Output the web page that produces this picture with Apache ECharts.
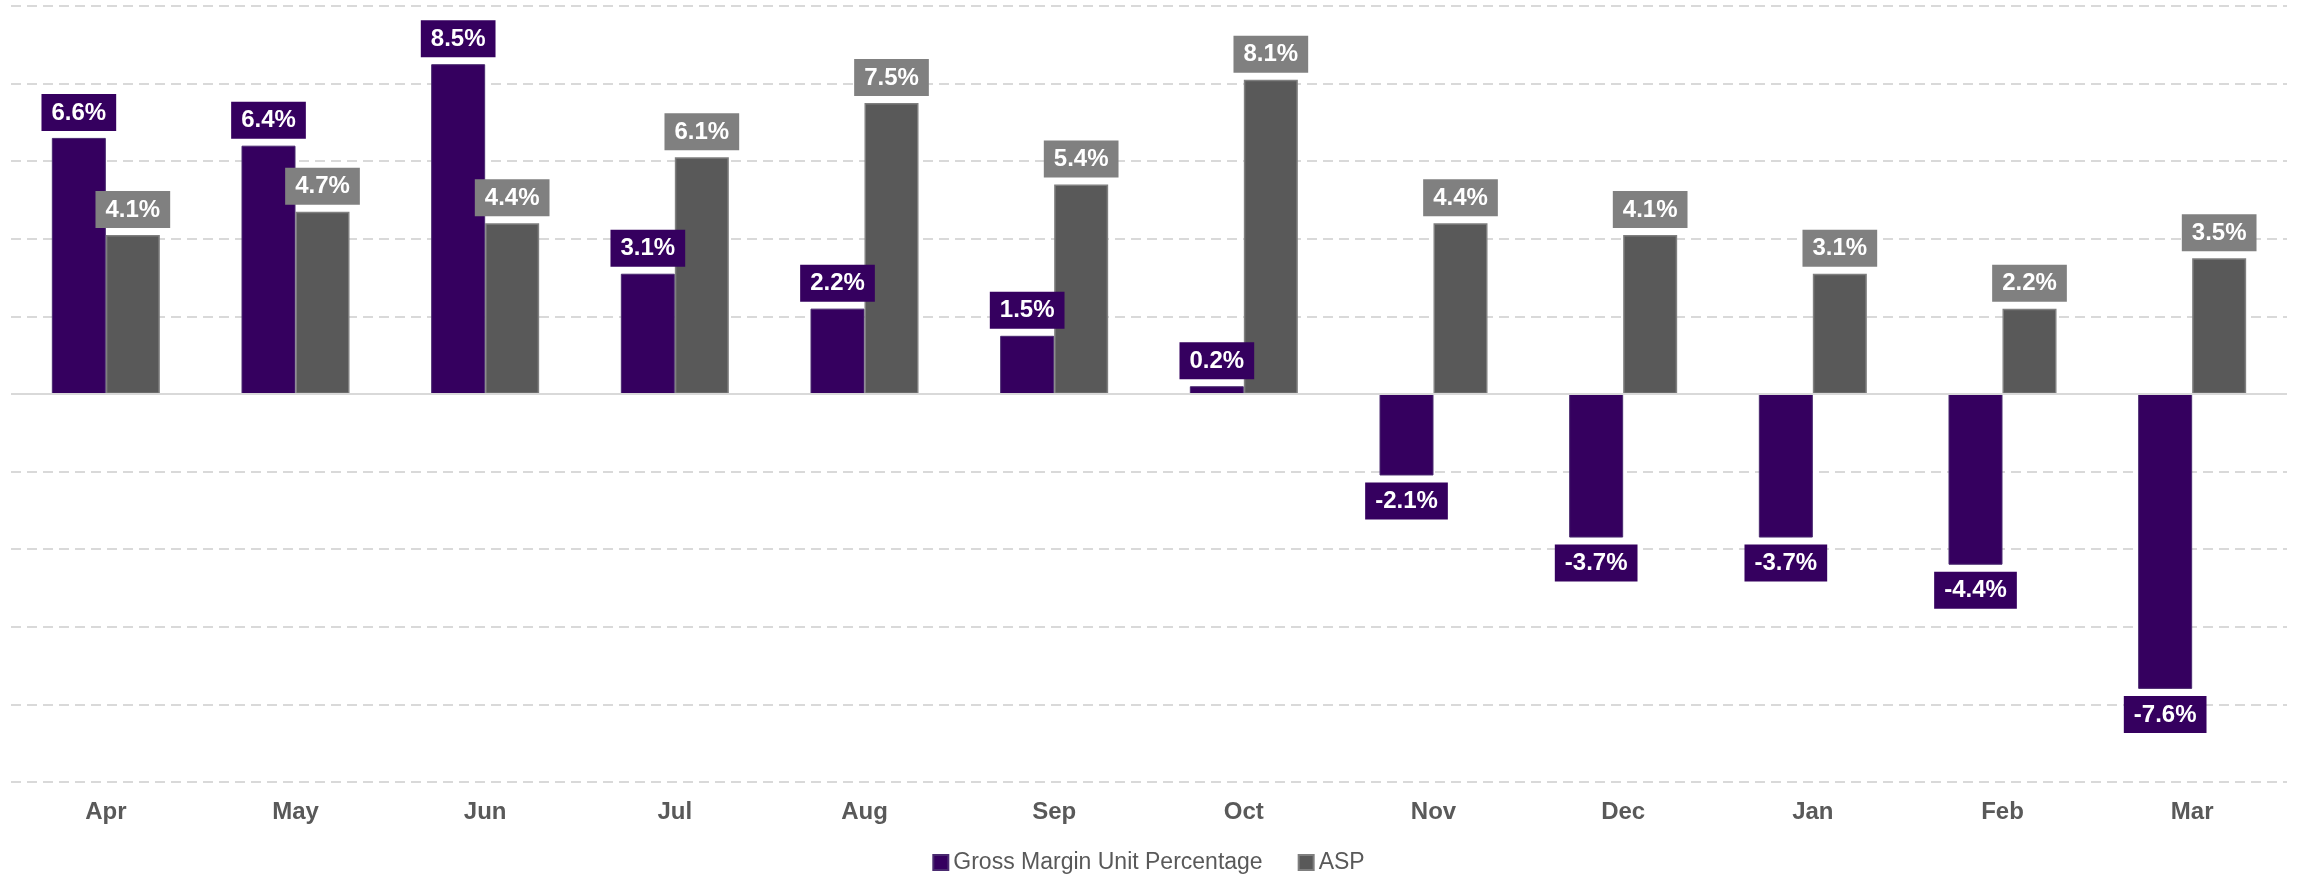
<!DOCTYPE html>
<html>
<head>
	<meta charset="utf-8" />
	<title>Gross Margin Unit Percentage vs ASP</title>
	<style type="text/css">
	*{margin: 0;padding: 0;}
	#main{width: 2297px;height: 875px;background: #fff;}
	</style>
</head>
<body>
<div id="main"></div>
<script src="https://cdn.jsdelivr.net/npm/echarts@6/dist/echarts.min.js"></script>
<script type="text/javascript">
	var months = ['Apr','May','Jun','Jul','Aug','Sep','Oct','Nov','Dec','Jan','Feb','Mar'];
	var grossMargin = [6.6, 6.4, 8.5, 3.1, 2.2, 1.5, 0.2, -2.1, -3.7, -3.7, -4.4, -7.6];
	var asp = [4.1, 4.7, 4.4, 6.1, 7.5, 5.4, 8.1, 4.4, 4.1, 3.1, 2.2, 3.5];

	var purple = '#35005f', grey = '#595959', labelGrey = '#808080';
	var font = 'Liberation Sans, Arial, sans-serif';

	// label box above positive bars, below negative ones
	var boxLabel = function(bg) {
		return {
			show: true,
			distance: 7,
			color: '#fff',
			fontFamily: font,
			fontWeight: 'bold',
			fontSize: 24,
			backgroundColor: bg,
			padding: [7, 10, 6, 10],
			formatter: function(p){ return p.value.toFixed(1) + '%'; }
		};
	};
	var toItems = function(arr) {
		return arr.map(function(v){
			return { value: v, label: { position: v < 0 ? 'bottom' : 'top' } };
		});
	};

	var option = {
		animation: false,
		grid: { left: 11, right: 10, top: 6, bottom: 93 },
		legend: {
			top: 846,
			left: 'center',
			itemWidth: 15,
			itemHeight: 15,
			itemGap: 35,
			icon: 'rect',
			textStyle: { color: '#595959', fontSize: 23, fontFamily: font },
			data: ['Gross Margin Unit Percentage', 'ASP']
		},
		xAxis: {
			type: 'category',
			data: months,
			axisLine: { show: false, onZero: false },
			axisTick: { show: false },
			axisLabel: {
				margin: 18,
				color: '#595959',
				fontSize: 24,
				fontWeight: 'bold',
				fontFamily: font
			}
		},
		yAxis: {
			type: 'value',
			min: -10,
			max: 10,
			interval: 2,
			axisLabel: { show: false },
			axisLine: { show: false },
			axisTick: { show: false },
			splitLine: { lineStyle: { color: '#d9d9d9', width: 2, type: [10, 6] } }
		},
		series: [
			{
				name: 'Gross Margin Unit Percentage',
				type: 'bar',
				barWidth: 54,
				barGap: '0%',
				data: toItems(grossMargin),
				itemStyle: { color: purple, borderColor: '#4a2a70', borderWidth: 1 },
				label: boxLabel(purple),
				markLine: {
					silent: true,
					symbol: 'none',
					label: { show: false },
					lineStyle: { color: '#d9d9d9', width: 2, type: 'solid' },
					data: [{ yAxis: 0 }]
				}
			},
			{
				name: 'ASP',
				type: 'bar',
				barWidth: 54,
				data: toItems(asp),
				itemStyle: { color: grey, borderColor: '#7f7f7f', borderWidth: 1.5 },
				label: boxLabel(labelGrey)
			}
		]
	};

	var chart = echarts.init(document.getElementById('main'));
	chart.setOption(option);
</script>
</body>
</html>
